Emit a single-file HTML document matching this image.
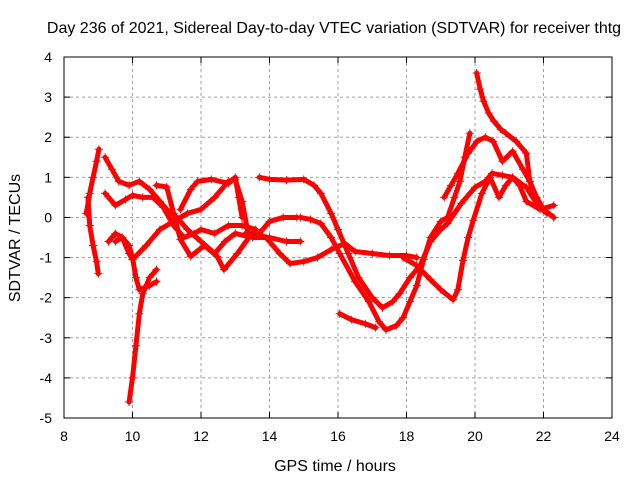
<!DOCTYPE html>
<html><head><meta charset="utf-8"><style>
body{margin:0;background:#fff;}
svg{display:block;font-family:"Liberation Sans",sans-serif;}
</style></head><body>
<svg id="chart" width="640" height="480">
<text x="334" y="33" font-size="16" text-anchor="middle">Day 236 of 2021, Sidereal Day-to-day VTEC variation (SDTVAR) for receiver thtg</text>
<text x="335" y="471" font-size="16" text-anchor="middle">GPS time / hours</text>
<text transform="translate(20,238) rotate(-90)" font-size="16" text-anchor="middle">SDTVAR / TECUs</text>
<g id="grid"></g><g id="series"></g><g id="axes"></g>
</svg>
<script>
const xTicks=[8,10,12,14,16,18,20,22,24];
const yTicks=[-5,-4,-3,-2,-1,0,1,2,3,4];
const sA=[[8.65,0.1],[8.75,0.6],[8.85,1.0],[8.95,1.4],[9.02,1.7]];
const sB=[[8.7,0.5],[8.75,-0.2],[8.85,-0.7],[8.95,-1.1],[9.0,-1.4]];
const sC=[[9.2,1.5],[9.4,1.2],[9.6,0.9],[9.9,0.8],[10.2,0.9],[10.5,0.7],[10.8,0.4],[11.0,0.2],[11.3,0.0],[11.6,-0.3],[12.0,-0.6],[12.4,-0.9],[12.7,-0.6],[13.0,-0.4],[13.5,-0.5],[14.0,-0.5],[14.5,-0.6],[14.9,-0.6]];
const sD=[[9.5,-0.6],[9.7,-0.5],[9.9,-0.7],[10.0,-1.0],[10.1,-1.5],[10.2,-1.8],[10.5,-1.7],[10.7,-1.6]];
const sE=[[9.9,-4.6],[10.0,-4.0],[10.1,-3.2],[10.2,-2.4],[10.3,-1.9],[10.5,-1.5],[10.7,-1.3]];
const sF=[[9.3,-0.6],[9.5,-0.4],[9.7,-0.5],[9.9,-0.9],[10.0,-1.05],[10.4,-0.7],[10.8,-0.3],[11.2,-0.1],[11.6,0.1],[12.0,0.2],[12.4,0.5],[12.8,0.9],[13.0,0.95],[13.2,0.4],[13.4,-0.5],[13.7,-0.4],[14.0,-0.1],[14.4,0.0],[14.8,0.0]];
const sG=[[11.4,0.2],[11.7,0.7],[11.9,0.9],[12.3,0.95],[12.8,0.85],[13.0,1.0],[13.1,0.5],[13.2,0.0]];
const sH=[[13.7,1.0],[14.0,0.95],[14.5,0.93],[15.0,0.95],[15.3,0.8],[15.5,0.6],[15.8,0.1],[16.0,-0.3],[16.3,-0.9],[16.6,-1.5],[17.0,-2.0],[17.3,-2.25],[17.6,-2.1],[17.8,-1.9],[18.1,-1.5],[18.4,-1.2],[18.7,-0.6],[19.0,-0.3],[19.2,-0.15],[19.6,0.35],[20.0,0.75],[20.3,0.9],[20.5,1.1],[20.8,1.05],[21.1,1.0],[21.5,0.75],[21.8,0.35],[22.0,0.2],[22.3,0.0]];
const sI=[[13.3,-0.4],[13.6,-0.4],[13.9,-0.5],[14.3,-0.9],[14.6,-1.15],[15.0,-1.1],[15.4,-1.0],[15.8,-0.8],[16.2,-0.65],[16.5,-0.85],[17.0,-0.9],[17.5,-0.95],[18.0,-0.95],[18.3,-1.0]];
const sJ=[[14.9,0.0],[15.2,-0.05],[15.5,-0.15],[15.8,-0.5],[16.05,-0.9],[16.5,-1.6],[16.9,-2.1],[17.2,-2.6],[17.4,-2.8],[17.7,-2.7],[17.9,-2.5],[18.1,-2.1],[18.3,-1.7],[18.5,-1.05],[18.7,-0.5],[19.0,-0.1],[19.2,0.0],[19.4,0.5],[19.56,0.9],[19.7,1.5],[19.85,2.1]];
const sK=[[16.05,-2.4],[16.4,-2.55],[16.8,-2.65],[17.1,-2.75]];
const sL=[[17.9,-1.0],[18.3,-1.2],[18.7,-1.55],[19.0,-1.8],[19.36,-2.05],[19.5,-1.8],[19.65,-1.07],[19.8,-0.5],[19.95,-0.07],[20.2,0.6],[20.44,1.0],[20.7,0.5],[20.9,0.8],[21.1,1.0],[21.3,0.8],[21.5,0.4],[21.9,0.2],[22.3,0.3]];
const sM=[[20.05,3.6],[20.15,3.2],[20.25,2.9],[20.4,2.6],[20.55,2.4],[20.75,2.2],[20.9,2.1],[21.2,1.9],[21.5,1.6],[21.6,0.9],[21.75,0.5],[21.9,0.25],[22.1,0.1]];
const sN=[[19.1,0.5],[19.3,0.8],[19.5,1.1],[19.8,1.6],[20.06,1.9],[20.3,2.0],[20.53,1.9],[20.8,1.4],[21.1,1.65],[21.4,1.2],[21.6,0.9],[21.8,0.5],[22.0,0.2],[22.3,0.0]];
const sO=[[10.7,0.8],[11.0,0.76],[11.2,0.1],[11.4,-0.55],[11.7,-0.97],[12.1,-0.7],[12.47,-0.97],[12.67,-1.3],[13.06,-0.9],[13.4,-0.5]];
const sP=[[9.2,0.6],[9.5,0.3],[9.8,0.45],[10.0,0.55],[10.3,0.5],[10.6,0.5],[10.9,0.25],[11.2,-0.2],[11.5,-0.5],[11.8,-0.4],[12.0,-0.3],[12.4,-0.4],[12.8,-0.2],[13.2,-0.2],[13.6,-0.3]];
const allSeries=[sA,sB,sC,sD,sE,sF,sG,sH,sI,sJ,sK,sL,sM,sN,sO,sP];

const L=64,R=612,T=57,B=418;
const X=v=>L+(v-8)/16*(R-L);
const Y=v=>B-(v+5)/9*(B-T);
const NS='http://www.w3.org/2000/svg';
function mk(t,a,p){const e=document.createElementNS(NS,t);for(const k in a)e.setAttribute(k,a[k]);p.appendChild(e);return e;}
const grid=document.getElementById('grid'),axes=document.getElementById('axes'),ser=document.getElementById('series');
xTicks.forEach(t=>{
  if(t>8&&t<24){const g=mk('line',{x1:X(t),x2:X(t),y1:T,y2:B,stroke:'#a0a0a0','stroke-dasharray':'3,3'},grid);
  
  }
  mk('line',{x1:X(t),x2:X(t),y1:B,y2:B-6,stroke:'#000'},axes);
  mk('line',{x1:X(t),x2:X(t),y1:T,y2:T+6,stroke:'#000'},axes);
  const tx=mk('text',{x:X(t),y:B+23,'font-size':14,'text-anchor':'middle'},axes);tx.textContent=t;
  
  
});
yTicks.forEach(t=>{
  if(t>-5&&t<4){const g=mk('line',{x1:L,x2:R,y1:Y(t),y2:Y(t),stroke:'#a0a0a0','stroke-dasharray':'3,3'},grid);
  
  }
  mk('line',{x1:L,x2:L+6,y1:Y(t),y2:Y(t),stroke:'#000'},axes);
  mk('line',{x1:R,x2:R-6,y1:Y(t),y2:Y(t),stroke:'#000'},axes);
  const tx=mk('text',{x:L-12,y:Y(t)+5,'font-size':14,'text-anchor':'end'},axes);tx.textContent=t;
  
  
});
const fr=mk('rect',{x:L,y:T,width:R-L,height:B-T,fill:'none',stroke:'#000'},axes);


allSeries.forEach((s,i)=>{
  const g=mk('g',{},ser);
  
  
  mk('polyline',{points:s.map(p=>X(p[0])+','+Y(p[1])).join(' '),fill:'none',stroke:'#f00','stroke-width':5,'stroke-linejoin':'round','stroke-linecap':'round'},g);
  s.forEach(p=>{const x=X(p[0]),y=Y(p[1]);
    mk('path',{d:`M${x-4},${y}H${x+4}M${x},${y-4}V${y+4}`,stroke:'#f00','stroke-width':1},g);});
});
</script>
</body></html>
